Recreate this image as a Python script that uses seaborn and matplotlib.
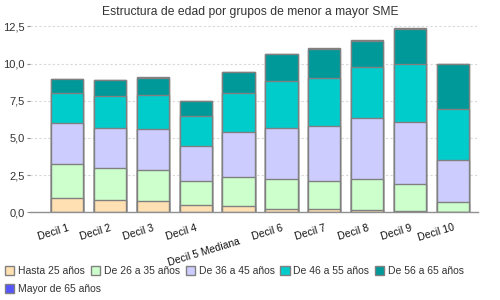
import matplotlib
matplotlib.use('Agg')
import matplotlib.pyplot as plt
import matplotlib.transforms as mtransforms
from matplotlib.patches import Patch
from matplotlib.ticker import FuncFormatter, MultipleLocator
import seaborn as sns
import numpy as np
import pandas as pd

deciles = ['Decil 1', 'Decil 2', 'Decil 3', 'Decil 4', 'Decil 5 Mediana',
           'Decil 6', 'Decil 7', 'Decil 8', 'Decil 9', 'Decil 10']

hasta_25 = [0.94, 0.82, 0.75, 0.46, 0.40, 0.24, 0.24, 0.17, 0.10, 0.03]
de_26_35 = [2.29, 2.14, 2.07, 1.63, 1.95, 1.98, 1.88, 2.09, 1.78, 0.68]
de_36_45 = [2.76, 2.69, 2.77, 2.39, 3.05, 3.47, 3.71, 4.11, 4.22, 2.79]
de_46_55 = [2.06, 2.16, 2.29, 1.97, 2.65, 3.13, 3.17, 3.39, 3.87, 3.43]
de_56_65 = [0.91, 1.08, 1.12, 1.02, 1.38, 1.82, 1.97, 1.79, 2.35, 3.04]
mayor_65 = [0.00, 0.00, 0.08, 0.00, 0.00, 0.00, 0.07, 0.07, 0.07, 0.00]

series = ['Hasta 25 años', 'De 26 a 35 años', 'De 36 a 45 años',
          'De 46 a 55 años', 'De 56 a 65 años', 'Mayor de 65 años']
colores = ['#FFE0B2', '#CCFFCC', '#CCCCFF', '#00CCCC', '#009999', '#5555FF']

sns.set_style('white')
plt.rcParams['font.family'] = ['Liberation Sans', 'DejaVu Sans']

df = pd.DataFrame({'decil': deciles})
valores = [hasta_25, de_26_35, de_36_45, de_46_55, de_56_65, mayor_65]
acumulado = np.cumsum(np.array(valores), axis=0)

fig = plt.figure(figsize=(5, 3), dpi=100)
ax = fig.add_axes([0.06, 0.2927, 0.896, 0.634])

# apilado: se dibujan los acumulados de mayor a menor
for i in range(len(series) - 1, -1, -1):
    df['valor'] = acumulado[i]
    sns.barplot(data=df, x='decil', y='valor', color=colores[i], saturation=1,
                width=0.75, edgecolor='#808080', linewidth=1, ax=ax)

ax.set_xlim(-0.86, 9.58)
ax.set_ylim(0, 12.8)
ax.yaxis.set_major_locator(MultipleLocator(2.5))
ax.yaxis.set_major_formatter(FuncFormatter(lambda v, p: f'{v:.1f}'.replace('.', ',')))
ax.grid(axis='y', color='#D8D8D8', linestyle=(0, (2, 2)), linewidth=0.8)
ax.set_axisbelow(True)
ax.set_xlabel('')
ax.set_ylabel('')

for s in ['top', 'right', 'left']:
    ax.spines[s].set_visible(False)
ax.spines['bottom'].set_color('#909090')
ax.spines['bottom'].set_linewidth(1)

ax.tick_params(axis='y', left=True, length=2, width=0.8, color='#909090',
               labelsize=8, labelcolor='#333333', pad=2)
ax.tick_params(axis='x', bottom=False, labelsize=7.5, labelcolor='#111111', pad=4)

for j, lab in enumerate(ax.get_xticklabels()):
    lab.set_rotation(17)
    lab.set_ha('right')
    lab.set_rotation_mode('anchor')
    if j == 4:
        offset = mtransforms.ScaledTranslation(0, -14 / 100, fig.dpi_scale_trans)
        lab.set_transform(lab.get_transform() + offset)

fig.suptitle('Estructura de edad por grupos de menor a mayor SME', x=0.5, y=0.98,
             fontsize=8.7, color='#333333')

handles = [Patch(facecolor=c, edgecolor='#808080', linewidth=1) for c in colores]
leg_kw = dict(frameon=False, fontsize=7.5, handlelength=0.9, handleheight=0.9,
              handletextpad=0.35, columnspacing=0.55, borderpad=0, borderaxespad=0,
              labelcolor='#333333')
fig.legend(handles[:5], series[:5], loc='upper left', bbox_to_anchor=(0.01, 0.112),
           ncol=5, **leg_kw)
fig.legend(handles[5:], series[5:], loc='upper left', bbox_to_anchor=(0.01, 0.052),
           ncol=1, **leg_kw)

fig.savefig('out.png', dpi=100)
